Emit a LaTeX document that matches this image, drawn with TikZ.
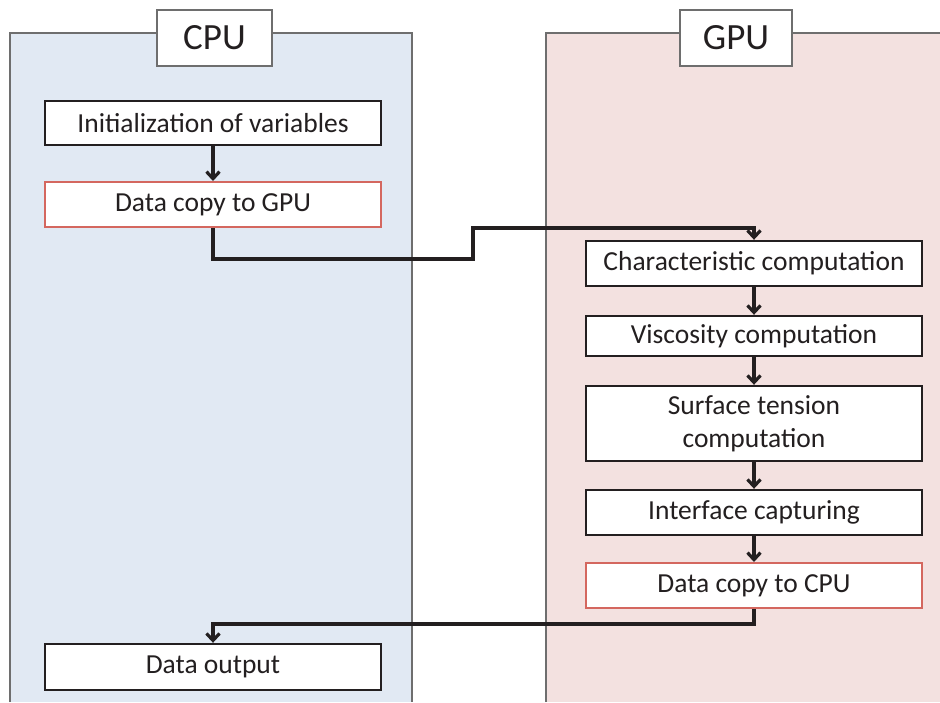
\documentclass[tikz,border=0pt]{standalone}
\usepackage{fontspec}
\setmainfont{Carlito}
\usetikzlibrary{arrows.meta}
\definecolor{cpufill}{HTML}{E1E9F3}
\definecolor{gpufill}{HTML}{F3E1E0}
\definecolor{redline}{HTML}{D4675F}
\definecolor{panelline}{HTML}{6E6E6E}
\definecolor{txt}{HTML}{231F20}
\tikzset{
  stepbox/.style={draw=txt, line width=2.4pt, fill=white, minimum width=336pt, inner sep=0pt, text=txt, align=center, font=\fontsize{27.5}{33}\selectfont},
  redbox/.style={stepbox, draw=redline, line width=2pt},
  titlebox/.style={draw=panelline, line width=1.3pt, fill=white, minimum width=115pt, minimum height=56pt, inner sep=0pt, text=txt, font=\fontsize{37}{40}\selectfont},
  arr/.style={draw=txt, line width=3.2pt, -{Straight Barb[length=7pt,width=13pt]}},
  panel/.style={draw=panelline, line width=1.1pt}
}
\begin{document}
\begin{tikzpicture}[x=1pt,y=-1pt]
\useasboundingbox (0,0) rectangle (940,702);
% panels
\fill[cpufill] (10,33) rectangle (412,702);
\draw[panel] (10,702) -- (10,33) -- (412,33) -- (412,702);
\fill[gpufill] (546,33) rectangle (940,702);
\draw[panel] (546,702) -- (546,33) -- (940,33);
\node[titlebox] (cpu) at (214.5,38) {CPU};
\node[titlebox, minimum width=112pt] (gpu) at (736,38) {GPU};
% CPU boxes
\node[stepbox, minimum height=44pt] (init) at (213,123) {Initialization of variables};
\node[redbox, minimum height=45pt] (copygpu) at (213,204.5) {Data copy to GPU};
\node[stepbox, minimum height=46pt] (output) at (213,667) {Data output};
% GPU boxes
\node[stepbox, minimum height=45pt] (char) at (754,263.5) {Characteristic computation};
\node[stepbox, minimum height=40pt] (visc) at (754,336) {Viscosity computation};
\node[stepbox, minimum height=75pt] (surf) at (754,423.5) {Surface tension\\computation};
\node[stepbox, minimum height=45pt] (iface) at (754,512.5) {Interface capturing};
\node[redbox, minimum height=45pt] (copycpu) at (754,585.5) {Data copy to CPU};
% connectors
\coordinate (j1) at (473,259);
\coordinate (j2) at (473,228);
\coordinate (j3) at (213,624);
\draw[arr] (init) -- (copygpu);
\draw[arr] (copygpu.south) |- (j1) -- (j2) -| (char.north);
\draw[arr] (char) -- (visc);
\draw[arr] (visc) -- (surf);
\draw[arr] (surf) -- (iface);
\draw[arr] (iface) -- (copycpu);
\draw[arr] (copycpu.south) |- (j3) -- (output.north);
\end{tikzpicture}
\end{document}
